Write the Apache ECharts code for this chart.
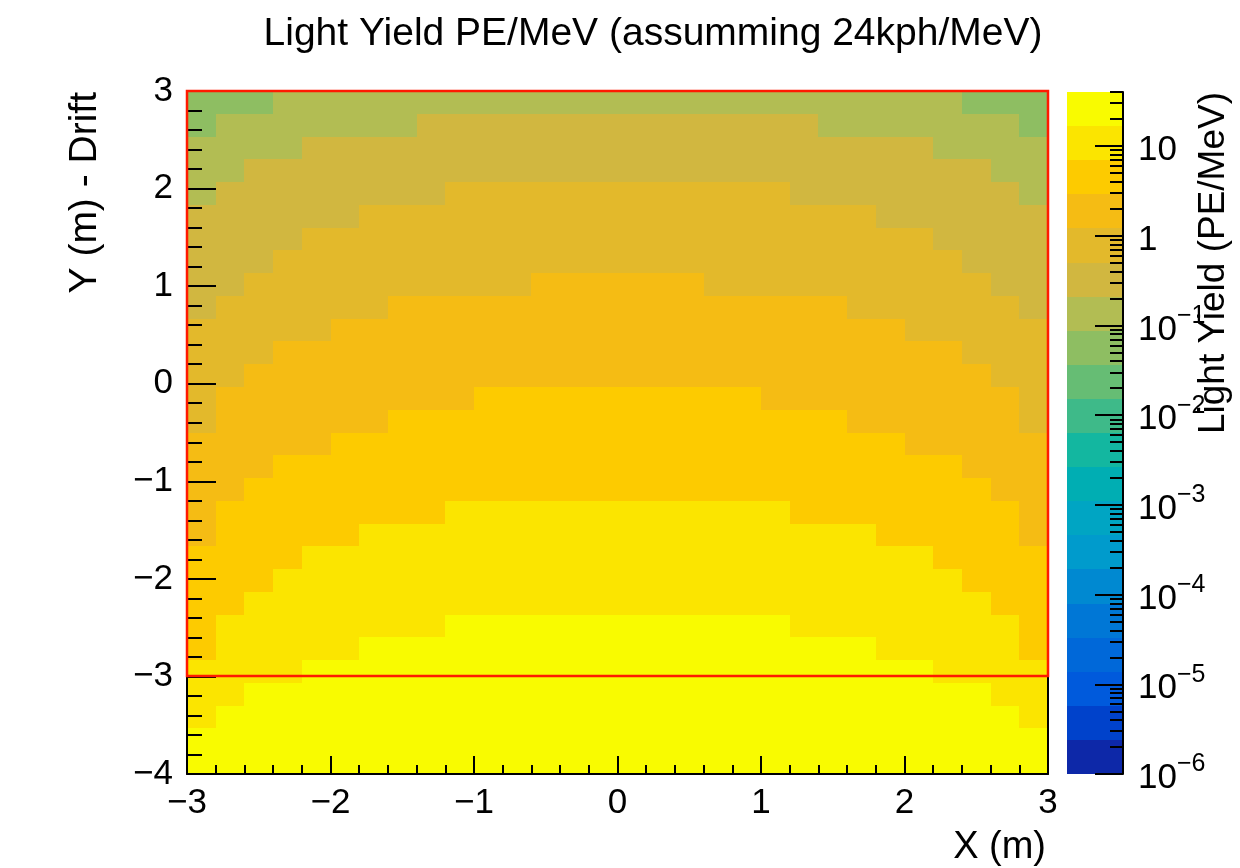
<!DOCTYPE html>
<html>
<head>
<meta charset="utf-8">
<script src="https://cdn.jsdelivr.net/npm/echarts@6.0.0/dist/echarts.min.js"></script>
<style>
  html, body { margin: 0; padding: 0; background: #fff; }
  #chart { width: 1240px; height: 868px; }
</style>
</head>
<body>
<div id="chart"></div>
<script>
// ---- text ----
const chartTitle = 'Light Yield PE/MeV (assumming 24kph/MeV)';
const xTitle = 'X (m)';
const yTitle = 'Y (m) - Drift';
const zTitle = 'Light Yield (PE/MeV)';

// ---- binning (metres) ----
const xEdges = [-3.0, -2.8, -2.6, -2.4, -2.2, -2.0, -1.8, -1.6, -1.4, -1.2, -1.0,
                -0.8, -0.6, -0.4, -0.2, 0.0, 0.2, 0.4, 0.6, 0.8, 1.0,
                1.2, 1.4, 1.6, 1.8, 2.0, 2.2, 2.4, 2.6, 2.8, 3.0];
const yEdges = [-4.0, -3.7667, -3.5333, -3.3, -3.0667, -2.8333, -2.6, -2.3667, -2.1333, -1.9, -1.6667,
                -1.4333, -1.2, -0.9667, -0.7333, -0.5, -0.2667, -0.0333, 0.2, 0.4333, 0.6667,
                0.9, 1.1333, 1.3667, 1.6, 1.8333, 2.0667, 2.3, 2.5333, 2.7667, 3.0];

// ---- light yield, PE/MeV; rows listed from the top (y = 3 m) downwards ----
const lightYield = [
  [0.056,0.056,0.056,0.13,0.13,0.13,0.13,0.13,0.13,0.13, 0.13,0.13,0.13,0.13,0.13,0.13,0.13,0.13,0.13,0.13, 0.13,0.13,0.13,0.13,0.13,0.13,0.13,0.056,0.056,0.056],
  [0.056,0.13,0.13,0.13,0.13,0.13,0.13,0.13,0.32,0.32, 0.32,0.32,0.32,0.32,0.32,0.32,0.32,0.32,0.32,0.32, 0.32,0.32,0.13,0.13,0.13,0.13,0.13,0.13,0.13,0.056],
  [0.13,0.13,0.13,0.13,0.32,0.32,0.32,0.32,0.32,0.32, 0.32,0.32,0.32,0.32,0.32,0.32,0.32,0.32,0.32,0.32, 0.32,0.32,0.32,0.32,0.32,0.32,0.13,0.13,0.13,0.13],
  [0.13,0.13,0.32,0.32,0.32,0.32,0.32,0.32,0.32,0.32, 0.32,0.32,0.32,0.32,0.32,0.32,0.32,0.32,0.32,0.32, 0.32,0.32,0.32,0.32,0.32,0.32,0.32,0.32,0.13,0.13],
  [0.13,0.32,0.32,0.32,0.32,0.32,0.32,0.32,0.32,0.78, 0.78,0.78,0.78,0.78,0.78,0.78,0.78,0.78,0.78,0.78, 0.78,0.32,0.32,0.32,0.32,0.32,0.32,0.32,0.32,0.13],
  [0.32,0.32,0.32,0.32,0.32,0.32,0.78,0.78,0.78,0.78, 0.78,0.78,0.78,0.78,0.78,0.78,0.78,0.78,0.78,0.78, 0.78,0.78,0.78,0.78,0.32,0.32,0.32,0.32,0.32,0.32],
  [0.32,0.32,0.32,0.32,0.78,0.78,0.78,0.78,0.78,0.78, 0.78,0.78,0.78,0.78,0.78,0.78,0.78,0.78,0.78,0.78, 0.78,0.78,0.78,0.78,0.78,0.78,0.32,0.32,0.32,0.32],
  [0.32,0.32,0.32,0.78,0.78,0.78,0.78,0.78,0.78,0.78, 0.78,0.78,0.78,0.78,0.78,0.78,0.78,0.78,0.78,0.78, 0.78,0.78,0.78,0.78,0.78,0.78,0.78,0.32,0.32,0.32],
  [0.32,0.32,0.78,0.78,0.78,0.78,0.78,0.78,0.78,0.78, 0.78,0.78,1.9,1.9,1.9,1.9,1.9,1.9,0.78,0.78, 0.78,0.78,0.78,0.78,0.78,0.78,0.78,0.78,0.32,0.32],
  [0.32,0.78,0.78,0.78,0.78,0.78,0.78,1.9,1.9,1.9, 1.9,1.9,1.9,1.9,1.9,1.9,1.9,1.9,1.9,1.9, 1.9,1.9,1.9,0.78,0.78,0.78,0.78,0.78,0.78,0.32],
  [0.78,0.78,0.78,0.78,0.78,1.9,1.9,1.9,1.9,1.9, 1.9,1.9,1.9,1.9,1.9,1.9,1.9,1.9,1.9,1.9, 1.9,1.9,1.9,1.9,1.9,0.78,0.78,0.78,0.78,0.78],
  [0.78,0.78,0.78,1.9,1.9,1.9,1.9,1.9,1.9,1.9, 1.9,1.9,1.9,1.9,1.9,1.9,1.9,1.9,1.9,1.9, 1.9,1.9,1.9,1.9,1.9,1.9,1.9,0.78,0.78,0.78],
  [0.78,0.78,1.9,1.9,1.9,1.9,1.9,1.9,1.9,1.9, 1.9,1.9,1.9,1.9,1.9,1.9,1.9,1.9,1.9,1.9, 1.9,1.9,1.9,1.9,1.9,1.9,1.9,1.9,0.78,0.78],
  [0.78,1.9,1.9,1.9,1.9,1.9,1.9,1.9,1.9,1.9, 4.5,4.5,4.5,4.5,4.5,4.5,4.5,4.5,4.5,4.5, 1.9,1.9,1.9,1.9,1.9,1.9,1.9,1.9,1.9,0.78],
  [0.78,1.9,1.9,1.9,1.9,1.9,1.9,4.5,4.5,4.5, 4.5,4.5,4.5,4.5,4.5,4.5,4.5,4.5,4.5,4.5, 4.5,4.5,4.5,1.9,1.9,1.9,1.9,1.9,1.9,0.78],
  [1.9,1.9,1.9,1.9,1.9,4.5,4.5,4.5,4.5,4.5, 4.5,4.5,4.5,4.5,4.5,4.5,4.5,4.5,4.5,4.5, 4.5,4.5,4.5,4.5,4.5,1.9,1.9,1.9,1.9,1.9],
  [1.9,1.9,1.9,4.5,4.5,4.5,4.5,4.5,4.5,4.5, 4.5,4.5,4.5,4.5,4.5,4.5,4.5,4.5,4.5,4.5, 4.5,4.5,4.5,4.5,4.5,4.5,4.5,1.9,1.9,1.9],
  [1.9,1.9,4.5,4.5,4.5,4.5,4.5,4.5,4.5,4.5, 4.5,4.5,4.5,4.5,4.5,4.5,4.5,4.5,4.5,4.5, 4.5,4.5,4.5,4.5,4.5,4.5,4.5,4.5,1.9,1.9],
  [1.9,4.5,4.5,4.5,4.5,4.5,4.5,4.5,4.5,11, 11,11,11,11,11,11,11,11,11,11, 11,4.5,4.5,4.5,4.5,4.5,4.5,4.5,4.5,1.9],
  [1.9,4.5,4.5,4.5,4.5,4.5,11,11,11,11, 11,11,11,11,11,11,11,11,11,11, 11,11,11,11,4.5,4.5,4.5,4.5,4.5,1.9],
  [4.5,4.5,4.5,4.5,11,11,11,11,11,11, 11,11,11,11,11,11,11,11,11,11, 11,11,11,11,11,11,4.5,4.5,4.5,4.5],
  [4.5,4.5,4.5,11,11,11,11,11,11,11, 11,11,11,11,11,11,11,11,11,11, 11,11,11,11,11,11,11,4.5,4.5,4.5],
  [4.5,4.5,11,11,11,11,11,11,11,11, 11,11,11,11,11,11,11,11,11,11, 11,11,11,11,11,11,11,11,4.5,4.5],
  [4.5,11,11,11,11,11,11,11,11,26, 26,26,26,26,26,26,26,26,26,26, 26,11,11,11,11,11,11,11,11,4.5],
  [4.5,11,11,11,11,11,26,26,26,26, 26,26,26,26,26,26,26,26,26,26, 26,26,26,26,11,11,11,11,11,4.5],
  [11,11,11,11,26,26,26,26,26,26, 26,26,26,26,26,26,26,26,26,26, 26,26,26,26,26,26,11,11,11,11],
  [11,11,26,26,26,26,26,26,26,26, 26,26,26,26,26,26,26,26,26,26, 26,26,26,26,26,26,26,26,11,11],
  [11,26,26,26,26,26,26,26,26,26, 26,26,26,26,26,26,26,26,26,26, 26,26,26,26,26,26,26,26,26,11],
  [26,26,26,26,26,26,26,26,26,26, 26,26,26,26,26,26,26,26,26,26, 26,26,26,26,26,26,26,26,26,26],
  [26,26,26,26,26,26,26,26,26,26, 26,26,26,26,26,26,26,26,26,26, 26,26,26,26,26,26,26,26,26,26]
];

// fiducial region outline: [xMin, xMax, yMin, yMax]
const fiducialBox = [-3, 3, -3, 3];

// colour scale (log z)
const zRange = [1e-6, 40];
const nContours = 20;
const zDecades = [-6, -5, -4, -3, -2, -1, 0, 1];

// ---- "bird" palette ----
const birdStops = [0.0, 0.125, 0.25, 0.375, 0.5, 0.625, 0.75, 0.875, 1.0];
const birdRed   = [0.2082, 0.0592, 0.0780, 0.0232, 0.1802, 0.5301, 0.8186, 0.9956, 0.9764];
const birdGreen = [0.1664, 0.3599, 0.5041, 0.6419, 0.7178, 0.7492, 0.7328, 0.7862, 0.9832];
const birdBlue  = [0.5293, 0.8684, 0.8385, 0.7914, 0.6425, 0.4662, 0.3499, 0.1968, 0.0539];
const saturationBoost = 1.2;

function bird(t) {
  let k = 0;
  while (k < birdStops.length - 2 && t > birdStops[k + 1]) k++;
  const f = (t - birdStops[k]) / (birdStops[k + 1] - birdStops[k]);
  const ch = a => 255 * (a[k] + (a[k + 1] - a[k]) * f);
  let rgb = [ch(birdRed), ch(birdGreen), ch(birdBlue)];
  // push the colours a little further from grey
  const hi = Math.max(...rgb), lo = Math.min(...rgb);
  if (hi > lo) {
    const s = Math.min(1, ((hi - lo) / hi) * saturationBoost);
    const newLo = hi * (1 - s);
    rgb = rgb.map(c => hi - (hi - c) * (hi - newLo) / (hi - lo));
  }
  return 'rgb(' + rgb.map(c => Math.round(c)).join(',') + ')';
}

const logMin = Math.log10(zRange[0]);
const logMax = Math.log10(zRange[1]);
const levelStep = (logMax - logMin) / nContours;
const bandColors = [];
for (let i = 0; i < nContours; i++) {
  const idx = Math.floor((i + 0.99) * 255 / nContours);
  bandColors.push(bird(idx / 254));
}
function bandOf(v) {
  const b = Math.floor(0.01 + (Math.log10(v) - logMin) / levelStep);
  return Math.max(0, Math.min(nContours - 1, b));
}

// ---- series data ----
const cells = [];
const nRows = lightYield.length;
lightYield.forEach((row, r) => {
  const j = nRows - 1 - r;
  row.forEach((v, c) => cells.push([xEdges[c], xEdges[c + 1], yEdges[j], yEdges[j + 1], v]));
});

const paletteBands = [];
for (let i = 0; i < nContours; i++) {
  paletteBands.push([0, 1, logMin + i * levelStep, logMin + (i + 1) * levelStep, i]);
}

const zMinorTicks = [];
zDecades.forEach(n => {
  for (let k = 2; k <= 9; k++) {
    const t = n + Math.log10(k);
    if (t <= logMax) zMinorTicks.push(t);
  }
});

function pixelRect(api, x0, x1, y0, y1) {
  const a = api.coord([x0, y1]);
  const b = api.coord([x1, y0]);
  const x = Math.round(a[0]), y = Math.round(a[1]);
  return { x: x, y: y, width: Math.round(b[0]) - x, height: Math.round(b[1]) - y };
}

const FONT = '"Liberation Sans", Arial, Helvetica, sans-serif';
const minus = v => (v < 0 ? '\u2212' + Math.abs(v) : String(v));
const black = '#000';
const paletteBox = { left: 1067, top: 92, width: 56, height: 682 };

const chart = echarts.init(document.getElementById('chart'), null, { renderer: 'canvas' });

chart.setOption({
  animation: false,
  backgroundColor: '#fff',
  grid: [
    { left: 187, top: 91, width: 861, height: 683, containLabel: false },
    Object.assign({ containLabel: false }, paletteBox),
    Object.assign({ containLabel: false }, paletteBox)
  ],
  xAxis: [
    {
      gridIndex: 0, type: 'value', min: -3, max: 3, interval: 1, position: 'bottom', z: 5,
      axisLine: { onZero: false, lineStyle: { color: black, width: 2 } },
      axisTick: { inside: true, length: 18, lineStyle: { color: black, width: 2 } },
      minorTick: { show: true, splitNumber: 5, length: 9, lineStyle: { color: black, width: 2 } },
      splitLine: { show: false },
      axisLabel: { color: black, fontSize: 35, fontFamily: FONT, margin: 12, formatter: minus }
    },
    {
      gridIndex: 0, type: 'value', min: -3, max: 3, position: 'top', z: 5,
      axisLine: { onZero: false, lineStyle: { color: black, width: 2 } },
      axisTick: { show: false }, axisLabel: { show: false }, splitLine: { show: false }
    },
    { gridIndex: 1, type: 'value', min: 0, max: 1, show: false },
    { gridIndex: 2, type: 'value', min: 0, max: 1, show: false }
  ],
  yAxis: [
    {
      gridIndex: 0, type: 'value', min: -4, max: 3, interval: 1, position: 'left', z: 5,
      axisLine: { onZero: false, lineStyle: { color: black, width: 2 } },
      axisTick: { inside: true, length: 29, lineStyle: { color: black, width: 2 } },
      minorTick: { show: true, splitNumber: 5, length: 15, lineStyle: { color: black, width: 2 } },
      splitLine: { show: false },
      axisLabel: { color: black, fontSize: 35, fontFamily: FONT, margin: 14, formatter: minus }
    },
    {
      gridIndex: 0, type: 'value', min: -4, max: 3, position: 'right', z: 5,
      axisLine: { onZero: false, lineStyle: { color: black, width: 2 } },
      axisTick: { show: false }, axisLabel: { show: false }, splitLine: { show: false }
    },
    {
      gridIndex: 1, type: 'value', min: logMin, max: logMax, position: 'right', z: 5,
      axisLine: { onZero: false, lineStyle: { color: black, width: 2 } },
      axisTick: { inside: true, length: 28, customValues: zDecades, lineStyle: { color: black, width: 2 } },
      splitLine: { show: false },
      axisLabel: {
        customValues: zDecades, margin: 15, color: black, fontFamily: FONT,
        formatter: v => (v === 0 ? '{b|1}' : v === 1 ? '{b|10}' : '{b|10}{s|\u2212' + (-v) + '}'),
        rich: {
          b: { fontSize: 35, fontFamily: FONT, color: black, lineHeight: 44, verticalAlign: 'bottom' },
          s: { fontSize: 25, fontFamily: FONT, color: black, lineHeight: 25, verticalAlign: 'top' }
        }
      }
    },
    {
      gridIndex: 2, type: 'value', min: logMin, max: logMax, position: 'right', z: 5,
      axisLine: { show: false, onZero: false },
      axisTick: { inside: true, length: 13, customValues: zMinorTicks, lineStyle: { color: black, width: 2 } },
      axisLabel: { show: false }, splitLine: { show: false }
    }
  ],
  series: [
    {
      type: 'custom', name: 'lightYield', xAxisIndex: 0, yAxisIndex: 0, z: 1,
      encode: { x: [0, 1], y: [2, 3] },
      data: cells,
      renderItem: (params, api) => ({
        type: 'rect',
        shape: pixelRect(api, api.value(0), api.value(1), api.value(2), api.value(3)),
        style: { fill: bandColors[bandOf(api.value(4))] }
      })
    },
    {
      type: 'custom', name: 'palette', xAxisIndex: 2, yAxisIndex: 2, z: 1,
      encode: { x: [0, 1], y: [2, 3] },
      data: paletteBands,
      renderItem: (params, api) => ({
        type: 'rect',
        shape: pixelRect(api, api.value(0), api.value(1), api.value(2), api.value(3)),
        style: { fill: bandColors[api.value(4)] }
      })
    },
    {
      type: 'custom', name: 'fiducial', xAxisIndex: 0, yAxisIndex: 0, z: 10,
      encode: { x: [0, 1], y: [2, 3] },
      data: [fiducialBox],
      renderItem: (params, api) => ({
        type: 'rect',
        shape: pixelRect(api, api.value(0), api.value(1), api.value(2), api.value(3)),
        style: { fill: 'none', stroke: '#ff1a00', lineWidth: 2.5 }
      })
    }
  ],
  graphic: [
    {
      type: 'text', x: 653, y: 34, z: 20,
      style: { text: chartTitle, fill: black, font: '39px ' + FONT, align: 'center', verticalAlign: 'middle' }
    },
    {
      type: 'text', x: 1046, y: 848, z: 20,
      style: { text: xTitle, fill: black, font: '38px ' + FONT, align: 'right', verticalAlign: 'middle' }
    },
    {
      type: 'text', x: 85, y: 92, rotation: Math.PI / 2, z: 20,
      style: { text: yTitle, fill: black, font: '39px ' + FONT, align: 'right', verticalAlign: 'middle' }
    },
    {
      type: 'text', x: 1214, y: 92, rotation: Math.PI / 2, z: 20,
      style: { text: zTitle, fill: black, font: '37px ' + FONT, align: 'right', verticalAlign: 'middle' }
    }
  ]
});
</script>
</body>
</html>
